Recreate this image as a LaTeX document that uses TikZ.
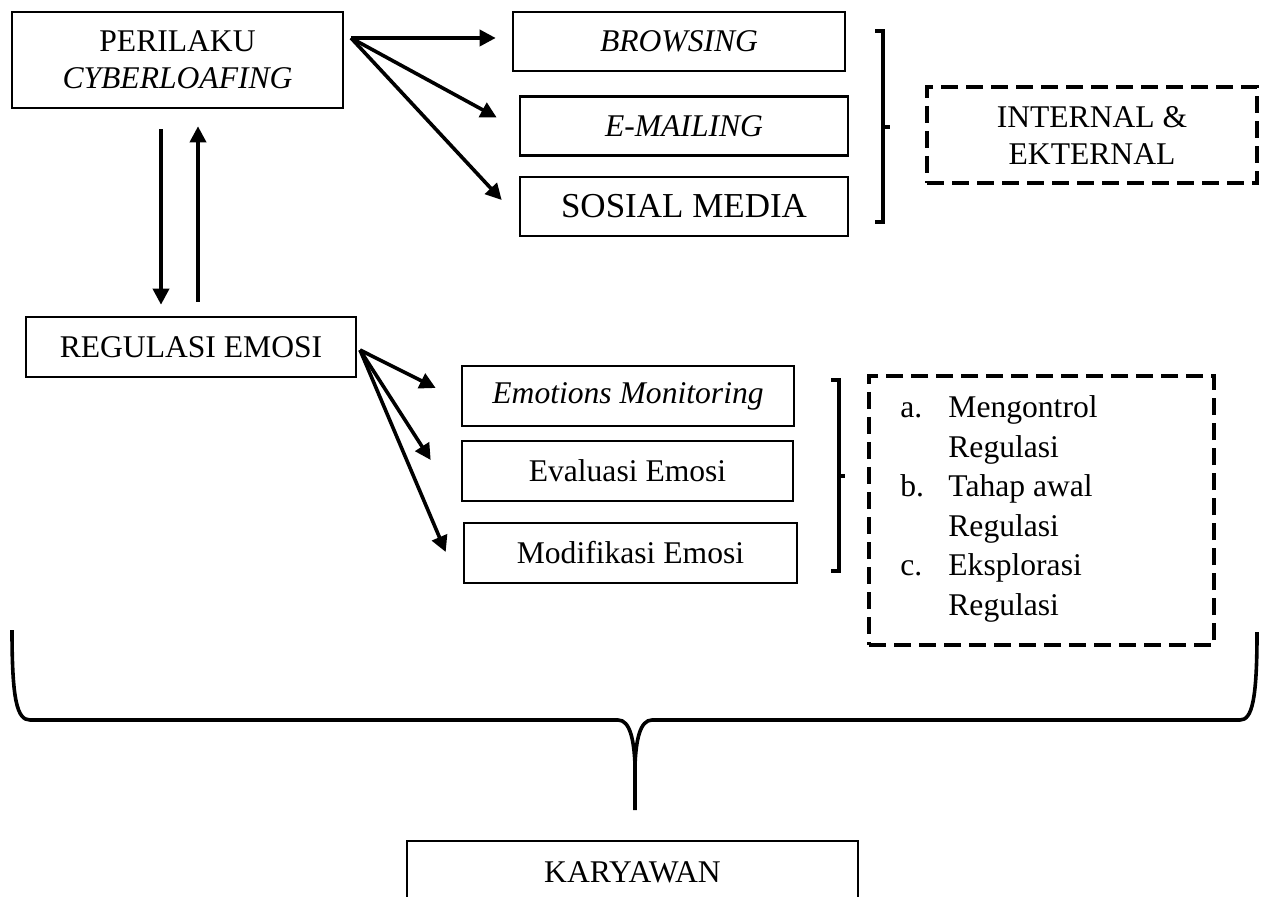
\documentclass[tikz,border=0pt]{standalone}
\usepackage{fontspec}
\setmainfont{Liberation Serif}
\usetikzlibrary{arrows.meta,calc}
\begin{document}
\begin{tikzpicture}[x=0.5pt,y=-0.5pt,
  box/.style={draw,line width=1.3pt,inner sep=0pt,align=center,font=\fontsize{15.8}{18.5}\selectfont},
  dbox/.style={draw,line width=2pt,dash pattern=on 8.5pt off 4pt,inner sep=0pt,align=center,font=\fontsize{15.8}{18.5}\selectfont},
  arr/.style={line width=1.8pt,-{Triangle[length=8pt,width=8pt]}},
  brk/.style={line width=1.6pt},
  bigbrace/.style={line width=1.8pt}]
\useasboundingbox (0,0) rectangle (1267,897);
\clip (0,0) rectangle (1267,897);
% top group
\node[box,minimum width=165.5pt,minimum height=48pt] (perilaku) at (177.5,60) {PERILAKU\\\textit{CYBERLOAFING}};
\node[box,minimum width=166pt,minimum height=29.5pt] (browsing) at (679,41.5) {\textit{BROWSING}};
\node[box,minimum width=164pt,minimum height=29.5pt] (email) at (684,126) {\textit{E-MAILING}};
\node[box,minimum width=164pt,minimum height=29.5pt,font=\fontsize{17.5}{20}\selectfont] (sosmed) at (684,206.5) {SOSIAL MEDIA};
\node[dbox,minimum width=165pt,minimum height=48pt] (intext) at (1092,135) {INTERNAL \&\\EKTERNAL};
\coordinate (pstart) at (351,38);
\draw[arr] (pstart) -- ($(browsing.west)+(-16,-3.5)$);
\draw[arr] (pstart) -- ($(email.west)+(-22,-8.5)$);
\draw[arr] (pstart) -- ($(sosmed.west)+(-17,-6.5)$);
\draw[brk] (875,31) -- (883,31) -- (883,222) -- (875,222);
\draw[brk] (883,127) -- (890,127);
% middle group
\node[box,minimum width=165pt,minimum height=30pt] (regulasi) at (191,347) {REGULASI EMOSI};
\draw[arr] ($(perilaku.south)+(-16.5,20)$) -- ($(regulasi.north)+(-30,-11)$);
\draw[arr] ($(regulasi.north)+(7,-14)$) -- ($(perilaku.south)+(20.5,17)$);
\node[box,minimum width=166pt,minimum height=30pt] (emon) at (628,396) {\textit{Emotions Monitoring}};
\node[box,minimum width=165.5pt,minimum height=30pt] (eval) at (627.5,471) {Evaluasi Emosi};
\node[box,minimum width=166.5pt,minimum height=30pt] (modif) at (630.5,553) {Modifikasi Emosi};
\coordinate (rstart) at (360,350);
\draw[arr] (rstart) -- ($(emon.west)+(-25,-8)$);
\draw[arr] (rstart) -- ($(eval.west)+(-30,-11)$);
\draw[arr] (rstart) -- ($(modif.west)+(-17,-1)$);
\draw[brk] (831,380) -- (839,380) -- (839,571) -- (831,571);
\draw[brk] (839,476) -- (845,476);
\node[dbox,minimum width=172.5pt,minimum height=134.5pt] (regbox) at (1041.5,510.5) {};
\node[anchor=base west,inner sep=0pt,font=\fontsize{15.8}{19.7}\selectfont] (items) at (900,418)
  {\begin{tabular}[t]{@{}p{24pt}@{}l@{}}a.&Mengontrol\\&Regulasi\\b.&Tahap awal\\&Regulasi\\c.&Eksplorasi\\&Regulasi\end{tabular}};
% big brace
\draw[bigbrace] (12,630) .. controls (12,700) and (17,720) .. (30,720) -- (618,720)
  .. controls (630,720) and (634,740) .. (635,765) -- (635,810);
\draw[bigbrace] (1257,632) .. controls (1257,700) and (1252,720) .. (1240,720) -- (652,720)
  .. controls (640,720) and (636,740) .. (635,765);
\coordinate (stem) at (635,810);
\node[box,minimum width=225.5pt,minimum height=31pt] (karyawan) at (632.5,872) {KARYAWAN};
\end{tikzpicture}
\end{document}
